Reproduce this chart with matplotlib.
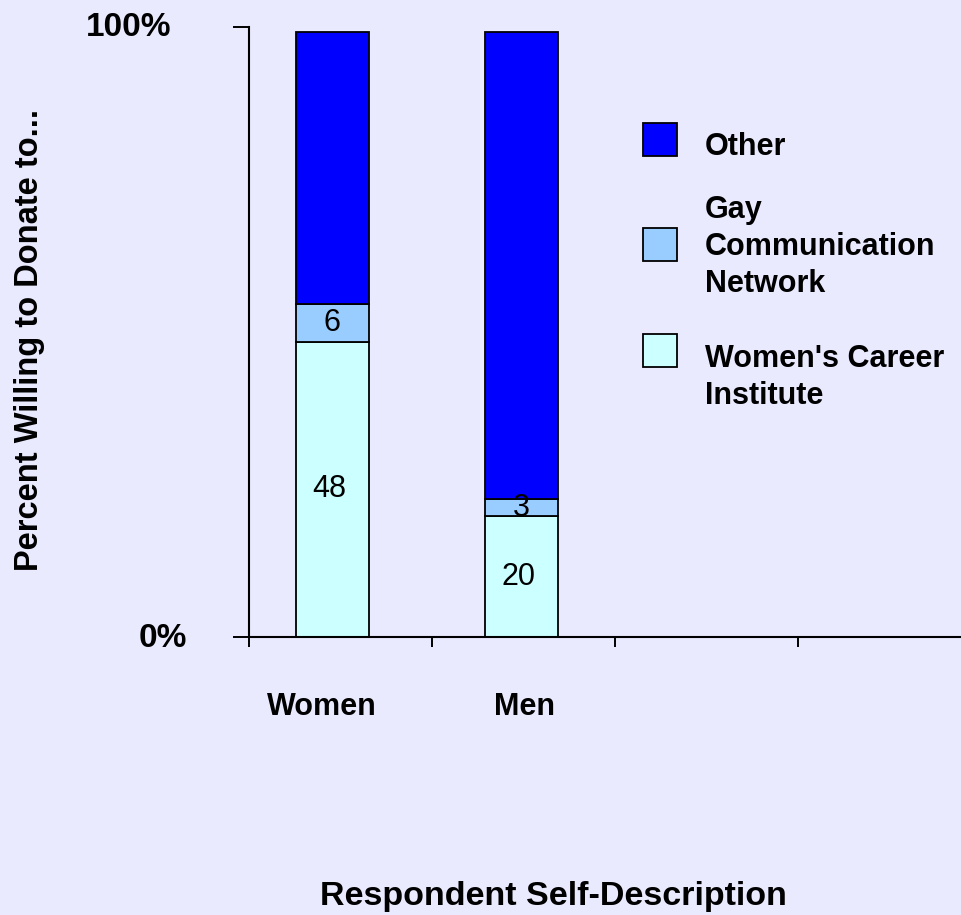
import matplotlib.pyplot as plt
from matplotlib.patches import Rectangle
from matplotlib.transforms import ScaledTranslation

plt.rcParams['font.family'] = ['Liberation Sans', 'DejaVu Sans']

categories = ['Women', 'Men']
wci = [48.4, 19.8]      # Women's Career Institute
gcn = [6.2, 2.8]        # Gay Communication Network
other = [44.6, 76.6]    # Other
series_names = ['Other', 'Gay\nCommunication\nNetwork', "Women's Career\nInstitute"]
colors = {'wci': '#CCFFFF', 'gcn': '#99CCFF', 'other': '#0000FF'}
bg = '#EAEAFF'

fig = plt.figure(figsize=(9.61, 9.15), dpi=100, facecolor=bg)
W, H = 961, 915
ax = fig.add_axes([249 / W, (H - 637) / H, (981 - 249) / W, 610 / H])
ax.set_facecolor(bg)

xpos = [0.456, 1.49]
bw = 0.40
ec = dict(edgecolor='black', linewidth=1.3)
ax.bar(xpos, wci, bw, color=colors['wci'], **ec)
ax.bar(xpos, gcn, bw, bottom=wci, color=colors['gcn'], **ec)
bot2 = [a + b for a, b in zip(wci, gcn)]
ax.bar(xpos, other, bw, bottom=bot2, color=colors['other'], **ec)

# data labels in the two lower segments
for i, x in enumerate(xpos):
    ax.text(x - 0.02, wci[i] / 2, '%.0f' % wci[i], ha='center', va='center',
            fontsize=22, color='black')
    ax.text(x, wci[i] + gcn[i] / 2, '%.0f' % gcn[i], ha='center', va='center',
            fontsize=22, color='black')

ax.set_xlim(0, 4)
ax.set_ylim(0, 100)
for s in ['top', 'right']:
    ax.spines[s].set_visible(False)
for s in ['left', 'bottom']:
    ax.spines[s].set_linewidth(1.5)
    ax.spines[s].set_color('black')

ax.set_xticks([0, 1, 2, 3, 4])
ax.set_xticklabels([])
ax.tick_params(axis='x', direction='out', length=7.2, width=1.4, color='black')
ax.set_yticks([0, 100])
ax.set_yticklabels(['0%', '100%'], fontsize=24, fontweight='bold')
ax.tick_params(axis='y', direction='out', length=11.5, width=1.4, color='black', pad=33)
lab100 = ax.get_yticklabels()[1]
lab100.set_transform(lab100.get_transform() + ScaledTranslation(-0.16, 0.03, fig.dpi_scale_trans))
lab0 = ax.get_yticklabels()[0]
lab0.set_transform(lab0.get_transform() + ScaledTranslation(0, 0.02, fig.dpi_scale_trans))

# category labels
label_px = [322, 524]
for name, px in zip(categories, label_px):
    fig.text(px / W, 1 - 715 / H, name, ha='center', va='baseline',
             fontsize=22, fontweight='bold')

fig.text(553 / W, 1 - 905 / H, 'Respondent Self-Description', ha='center',
         va='baseline', fontsize=24.5, fontweight='bold')
fig.text(30 / W, 1 - 340 / H, 'Percent Willing to Donate to...', rotation=90,
         ha='center', va='center', fontsize=23.5, fontweight='bold')

# legend drawn by hand
leg_colors = [colors['other'], colors['gcn'], colors['wci']]
box_tops = [123, 228, 334]
first_base = [155, 218, 367]
for name, c, bt, fb in zip(series_names, leg_colors, box_tops, first_base):
    fig.patches.append(Rectangle((643 / W, 1 - (bt + 33) / H), 34 / W, 33 / H,
                                 transform=fig.transFigure, facecolor=c,
                                 edgecolor='black', linewidth=1.3))
    for j, line in enumerate(name.split('\n')):
        fig.text(705 / W, 1 - (fb + 37 * j) / H, line, ha='left', va='baseline',
                 fontsize=22, fontweight='bold')

fig.savefig('out.png', dpi=100, facecolor=bg)
